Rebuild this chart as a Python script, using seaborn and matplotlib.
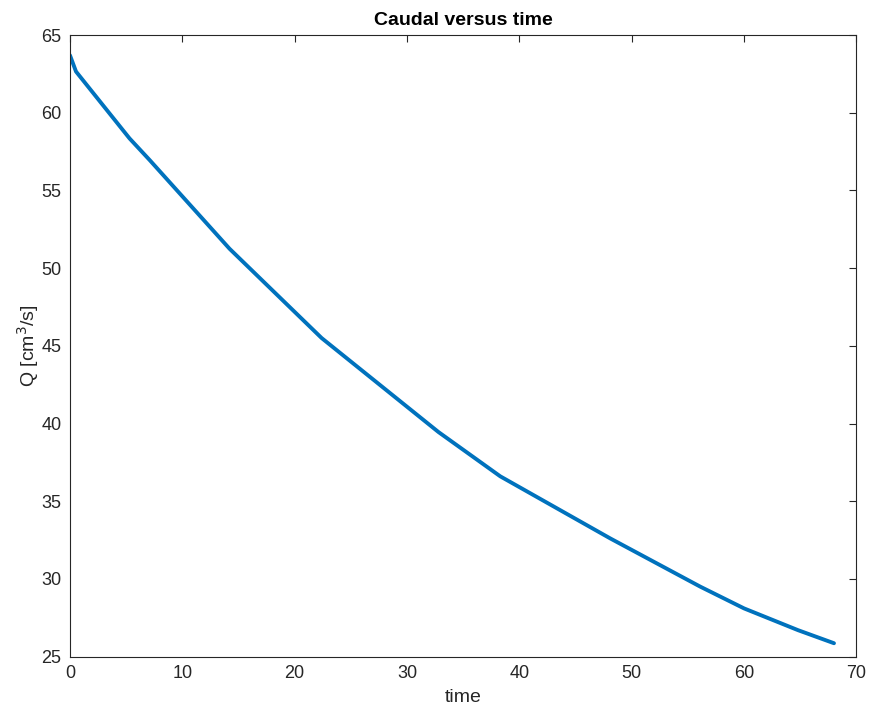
import matplotlib
matplotlib.use("Agg")
import matplotlib.pyplot as plt
import pandas as pd
import seaborn as sns

# values
time = [0, 0.54, 5.3, 7.1, 14.2, 22.4, 32.8, 38.3, 48.1, 56.1, 60.0, 64.8, 68.0]
flow = [63.7, 62.65, 58.35, 56.95, 51.25, 45.5, 39.45, 36.6, 32.6, 29.5, 28.1, 26.7, 25.86]
x_ticks = [0, 10, 20, 30, 40, 50, 60, 70]
y_ticks = [25, 30, 35, 40, 45, 50, 55, 60, 65]

sns.set_theme(style="white")
plt.rcParams["font.family"] = ["Liberation Sans", "DejaVu Sans"]
plt.rcParams["xtick.direction"] = "in"
plt.rcParams["ytick.direction"] = "in"

df = pd.DataFrame({"time": time, "Q": flow})

fig = plt.figure(figsize=(8.71, 7.15), dpi=100)
ax = fig.add_axes([0.0803, 0.0817, 0.903, 0.8693])
sns.lineplot(data=df, x="time", y="Q", color="#0072BD", linewidth=2.8, ax=ax)

ax.set_xlim(0, 70)
ax.set_ylim(25, 65)
ax.set_xticks(x_ticks)
ax.set_yticks(y_ticks)
ax.tick_params(axis="both", which="both", top=True, right=True, length=5,
               width=0.8, color="#262626", labelsize=13, labelcolor="#262626", pad=6)
for s in ax.spines.values():
    s.set_color("#262626")
    s.set_linewidth(0.8)

ax.set_title("Caudal versus time", fontsize=14, fontweight="bold", color="black", pad=7)
ax.set_xlabel("time", fontsize=14, color="#262626", labelpad=5)
ax.set_ylabel(r"Q [cm$^3$/s]", fontsize=14, color="#262626", labelpad=0)

fig.savefig("out.png", dpi=100)
